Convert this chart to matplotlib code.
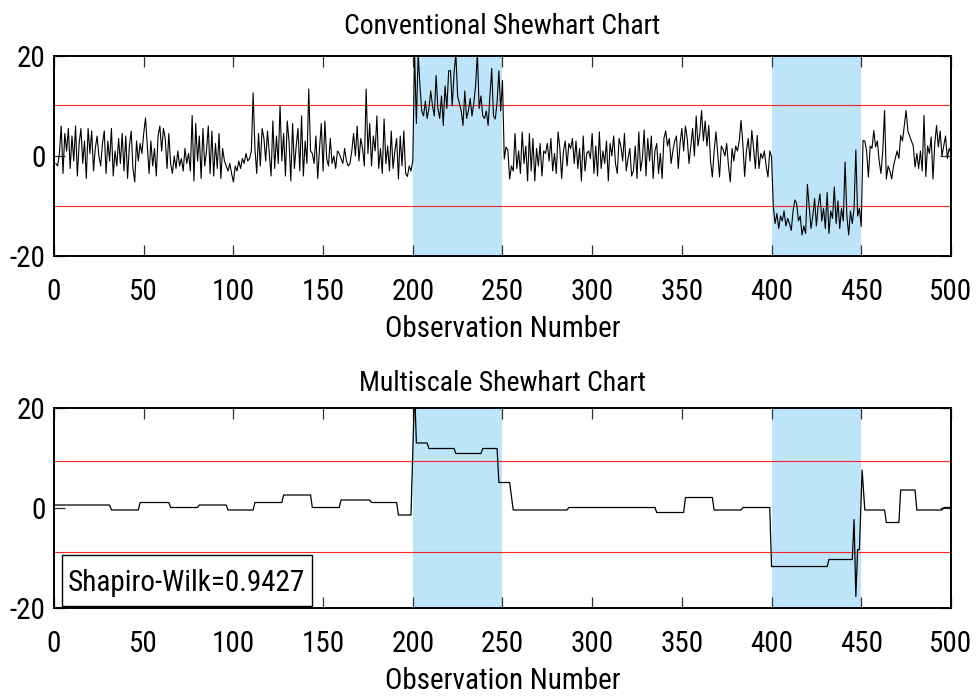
import numpy as np
import matplotlib
matplotlib.use("Agg")
import matplotlib.pyplot as plt
from matplotlib import font_manager
from matplotlib.patches import Rectangle

# narrow face if one is installed, otherwise plain Arial metrics at a smaller size
installed = {f.name for f in font_manager.fontManager.ttflist}
narrow = [n for n in ['Liberation Sans Narrow', 'Roboto Condensed', 'DejaVu Sans Condensed',
                      'Open Sans Condensed', 'Noto Sans Condensed'] if n in installed]
if narrow:
    plt.rcParams['font.family'] = [narrow[0], 'Liberation Sans', 'DejaVu Sans']
    fs, fs_title = 21, 20
else:
    plt.rcParams['font.family'] = ['Liberation Sans', 'DejaVu Sans']
    fs, fs_title = 17.5, 16.5
plt.rcParams['axes.unicode_minus'] = False

in_control_1 = [
    -1.5, -2.0, 0.5, 6.0, -3.5, 4.5, 1.0, 5.5, -2.5, 4.0, -1.0, 6.0, -4.0, 2.5, 5.5, -1.5, 3.0, -4.5, 5.5, 0.5, 5.0, -3.0, 1.5, 4.0, 0.0,
    -2.0, 2.5, 5.0, -3.5, 3.0, -1.0, 5.5, -4.0, 1.0, -2.0, 3.5, -1.5, 4.5, -3.0, 4.0, -4.5, 2.0, 5.0, -2.5, -5.2, 3.0, -1.0, 2.5, 0.5, 4.5,
    7.6, 2.0, -3.5, 3.0, -2.0, 1.5, -4.0, 4.0, 6.0, 1.0, 5.5, 3.5, -2.5, 4.5, -1.5, -3.5, 0.0, -2.5, 1.0, -2.0, -0.5, -3.0, 1.5, -1.5, 0.5,
    -3.0, 8.1, -5.0, 6.5, -1.0, 4.0, -4.5, 5.5, -2.0, 1.0, 6.0, -3.5, 5.0, -4.0, 2.5, -2.5, 4.5, -4.5, 1.5, -1.0, -2.0, -3.0, -1.5, -3.5, -5.2,
    -2.0, -3.0, -1.0, -2.5, -0.5, -1.5, 0.5, -1.0, -0.5, 1.0, 12.6, 1.5, -3.5, 4.5, -2.0, 5.5, 3.5, -1.0, 5.0, 0.5, -4.0, 7.0, -2.5, 4.0, -1.5,
    10.1, -1.0, 4.5, -4.0, 7.0, 3.0, -5.0, 6.5, -2.5, 2.0, 5.5, -3.0, 8.0, -4.0, 3.0, -1.5, 13.4, 1.0, 0.5, -1.5, 4.0, -4.5, 1.5, 6.5, -3.0,
    7.0, -0.5, -2.0, 3.5, -1.5, 0.0, -2.5, 1.0, 0.5, -0.5, -1.5, 1.5, -1.0, -2.0, -1.5, 1.0, 4.5, 0.0, 6.0, -1.0, 3.5, 1.5, -2.0, 13.4, 0.5,
    6.5, -2.0, 4.0, 1.0, 8.0, -2.5, 1.5, -3.5, 7.4, -1.5, 2.0, -3.0, 5.0, -2.5, 1.0, 3.5, -4.6, 4.0, -2.0, 5.0, -3.5, -4.1, -2.0, -3.0, -1.0,
]
shift_up = [
    20.5, 6.5, 20.5, 14.0, 9.0, 8.0, 11.0, 7.5, 9.5, 13.0, 10.0, 8.0, 16.1, 9.5, 7.5, 12.0, 6.1, 14.0, 9.5, 17.0, 17.1, 10.0, 16.5, 20.5, 12.0,
    10.5, 9.0, 6.1, 13.0, 7.5, 9.0, 11.5, 8.0, 10.5, 14.0, 20.5, 9.5, 12.0, 8.0, 7.5, 9.0, 6.1, 12.0, 17.5, 8.0, 7.4, 10.8, 17.0, 9.0, 15.1,
]
in_control_2 = [
    -0.6, 1.8, 1.2, -4.6, -2.0, -3.0, 4.5, -2.5, 1.0, -3.5, 4.8, -1.5, 2.0, -5.0, 4.5, -3.0, 3.5, -5.0, 1.5, -2.0, 2.5, -4.0, 1.0, 0.5, 2.5,
    -1.0, 3.5, -3.0, 0.5, -3.5, 4.8, 1.5, -4.5, 1.0, 3.0, -2.0, 2.5, 1.5, 3.5, -1.5, 3.0, -2.5, 1.5, -5.0, 4.0, -3.0, 0.5, 1.0, -0.5, 4.5,
    -3.5, 2.0, -4.0, 4.8, -2.5, 1.0, -1.5, 3.0, -5.0, 2.5, 0.0, 4.0, -1.5, -3.5, 3.5, 2.0, -1.0, 4.5, -3.0, -0.5, 1.5, -4.0, -3.0, 2.0, -4.5,
    4.8, -3.0, -0.5, 5.2, -4.0, 3.5, -1.0, 4.0, -4.5, 1.0, 2.5, -3.5, 0.5, -4.5, 3.5, 5.0, 2.0, 3.5, -1.5, 1.0, 3.0, 4.0, -2.5, 2.5, 5.5,
    1.0, 6.0, 3.5, -1.5, 2.0, 5.5, 0.0, 8.0, 2.0, 4.5, 9.1, 3.0, 7.0, 2.0, 6.1, -1.0, -4.2, 1.0, 4.8, 0.5, -4.2, 2.0, 1.3, 0.0, 2.5,
    -2.0, -5.2, 1.5, -1.0, 2.0, 1.0, 3.0, 7.1, 2.5, -4.1, 1.0, 3.5, -1.0, 5.1, 1.5, -2.5, 4.1, -2.5, 0.5, -0.5, 1.0, -2.0, -4.2, 1.0, -0.2,
]
shift_down = [
    -10.2, -13.5, -11.5, -14.5, -12.0, -13.0, -11.0, -14.0, -12.5, -13.5,
    -14.9, -11.0, -8.8, -9.5, -13.0, -12.0, -15.8, -14.0, -15.5, -5.7,
    -10.0, -14.5, -12.0, -8.5, -14.0, -10.0, -7.6, -13.0, -10.5, -14.5,
    -7.3, -15.5, -11.0, -12.5, -6.2, -13.5, -9.0, -14.5, -10.5, -13.0,
    -1.2, -12.0, -15.8, -11.0, -13.5, -10.5, 1.2, -12.0, -10.5, -14.1,
]
in_control_3 = [
    3.1, 3.0, 1.0, -4.2, 2.0, 1.5, 5.1, 1.8, 3.0, -1.0,
    -3.5, 1.0, 9.1, -4.6, -2.0, -3.0, -4.6, -2.0, -0.5, 1.0,
    -0.5, 4.1, 3.0, 6.0, 9.1, 5.0, 4.0, 3.0, 2.0, -2.2,
    0.5, -2.5, 1.0, -3.0, 8.1, -4.1, 2.0, 0.5, 3.8, -4.6,
    2.5, 6.1, 1.8, 5.0, 0.0, 2.0, 4.0, -0.5, 1.5, 0.5,
]
conv_limits = [10.1, -10.1]

# multiscale chart: corner points of the reconstructed signal
ms_x = [0, 31, 32, 47, 48, 64, 65, 80, 81, 96, 97, 111, 112, 127, 128, 143, 144, 159,
        160, 176, 177, 191, 192, 199, 201, 202, 208, 209, 223, 224, 238, 239, 247, 248,
        254, 256, 286, 287, 335, 336, 351, 352, 367, 368, 383, 384, 399, 400, 431, 432,
        445, 446, 447, 448, 449, 450.5, 452, 463, 464, 471, 472, 480, 481, 495, 496, 500]
ms_y = [0.6, 0.6, -0.4, -0.4, 1.1, 1.1, 0.1, 0.1, 0.6, 0.6, -0.4, -0.4, 1.1, 1.1, 2.6, 2.6, 0.1, 0.1,
        1.6, 1.6, 1.1, 1.1, -1.4, -1.4, 24.0, 13.0, 13.0, 11.9, 11.9, 10.9, 10.9, 11.9, 11.9, 5.1,
        5.1, -0.4, -0.4, 0.1, 0.1, -0.9, -0.9, 2.1, 2.1, -0.4, -0.4, 0.1, 0.1, -11.7, -11.7, -10.3,
        -10.3, -2.3, -17.7, -8.3, -8.3, 7.6, -0.4, -0.4, -2.9, -2.9, 3.6, 3.6, -0.4, -0.4, 0.1, 0.1]
ms_limits = [9.5, -8.8]

fault_windows = [(200, 250), (400, 450)]
shapiro_text = 'Shapiro-Wilk=0.9427'

conv = np.array(in_control_1 + shift_up + in_control_2 + shift_down + in_control_3)
obs = np.arange(1, len(conv) + 1)

fig = plt.figure(figsize=(9.77, 6.96), dpi=100)
ax1 = fig.add_axes([0.0553, 0.6322, 0.918, 0.2874])
ax2 = fig.add_axes([0.0553, 0.1264, 0.918, 0.2874])

shade = '#bee4fa'


def style_axes(ax, title, title_pad):
    for a, b in fault_windows:
        ax.axvspan(a, b, color=shade, lw=0, zorder=0)
    ax.set_xlim(0, 500)
    ax.set_ylim(-20, 20)
    ax.set_xticks(np.arange(0, 501, 50))
    ax.set_yticks([-20, 0, 20])
    ax.tick_params(direction='in', top=True, right=True, length=8, width=0.9,
                   color='#333333', labelsize=fs)
    ax.tick_params(axis='x', pad=16)
    ax.tick_params(axis='y', pad=6)
    for s in ax.spines.values():
        s.set_linewidth(1.4)
    ax.set_xlabel('Observation Number', fontsize=fs, labelpad=6)
    ax.set_title(title, fontsize=fs_title, pad=title_pad)


style_axes(ax1, 'Conventional Shewhart Chart', 16)
ax1.plot(obs, conv, color='black', lw=0.8, zorder=3)
for lim in conv_limits:
    ax1.axhline(lim, color='red', lw=0.8, alpha=0.85, zorder=2)

style_axes(ax2, 'Multiscale Shewhart Chart', 12)
ax2.plot(ms_x, ms_y, color='black', lw=0.9, zorder=3)
for lim in ms_limits:
    ax2.axhline(lim, color='red', lw=0.8, alpha=0.85, zorder=2)

ax2.add_patch(Rectangle((0.0086, 0.008), 0.2787, 0.2585, transform=ax2.transAxes,
                        facecolor='white', edgecolor='black', lw=1.0, zorder=4))
ax2.text(0.148, 0.125, shapiro_text, transform=ax2.transAxes, fontsize=fs,
         ha='center', va='center', zorder=5)

fig.savefig('out.png', dpi=100)
